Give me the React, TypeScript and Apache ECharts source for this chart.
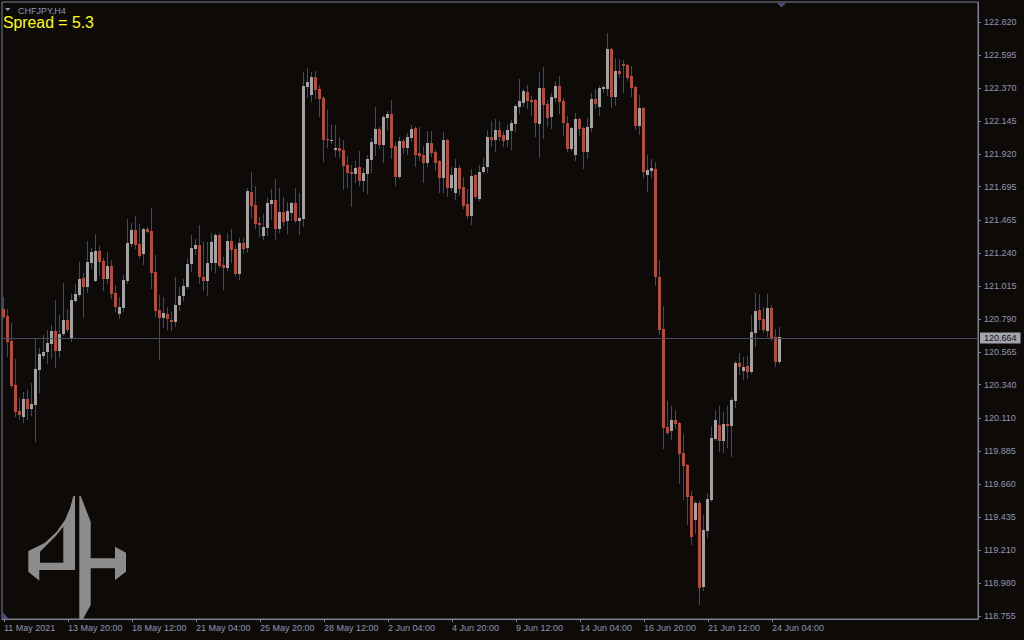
import React, { useEffect, useRef } from "react";
import * as echarts from "echarts";

// ---- data (CHFJPY, H4) ----
const OPEN = [
  120.856, 120.811, 120.639, 120.338, 120.160, 120.122, 120.243, 120.174, 120.201, 120.443,
  120.539, 120.566, 120.619, 120.708, 120.573, 120.687, 120.783, 120.662, 120.913, 120.954,
  121.071, 121.011, 121.176, 121.052, 121.255, 121.187, 121.066, 121.153, 120.966, 120.826,
  120.867, 121.052, 121.303, 121.399, 121.301, 121.235, 121.406, 121.392, 121.112, 120.852,
  120.799, 120.824, 120.785, 120.769, 120.886, 120.947, 121.011, 121.166, 121.269, 121.296,
  121.080, 121.050, 121.171, 121.173, 121.365, 121.160, 121.137, 121.324, 121.269, 121.098,
  121.310, 121.276, 121.659, 121.570, 121.447, 121.358, 121.413, 121.577, 121.604, 121.406,
  121.522, 121.461, 121.515, 121.584, 121.461, 121.474, 122.378, 122.323, 122.446, 122.364,
  122.302, 122.022, 122.006, 121.947, 121.960, 121.947, 121.844, 121.796, 121.782, 121.830,
  121.734, 121.782, 121.878, 121.988, 122.090, 121.981, 122.166, 122.193, 121.974, 121.762,
  122.008, 121.960, 122.029, 122.097, 121.926, 121.912, 121.858, 121.994, 121.933, 121.871,
  121.755, 122.015, 121.687, 121.652, 121.823, 121.693, 121.577, 121.495, 121.776, 121.611,
  121.796, 121.830, 122.036, 122.015, 122.083, 122.049, 122.015, 122.077, 122.124, 122.241,
  122.268, 122.343, 122.289, 122.289, 122.124, 122.371, 122.261, 122.172, 122.302, 122.385,
  122.282, 122.131, 121.953, 121.912, 122.159, 122.097, 121.933, 122.097, 122.296, 122.241,
  122.364, 122.364, 122.638, 122.309, 122.487, 122.535, 122.528, 122.453, 122.378, 122.111,
  122.234, 121.775, 121.803, 121.816, 121.077, 120.722, 120.051, 120.024, 120.099, 120.078,
  119.873, 119.791, 119.579, 119.414, 119.531, 118.956, 119.339, 119.551, 119.969, 120.065,
  119.955, 120.071, 120.058, 120.229, 120.489, 120.434, 120.468, 120.427, 120.694, 120.852,
  120.790, 120.708, 120.865, 120.667, 120.496,
];
const HIGH = [
  120.938, 120.856, 120.760, 120.516, 120.247, 120.288, 120.304, 120.350, 120.662, 120.589,
  120.680, 120.715, 120.749, 120.920, 120.817, 121.034, 120.858, 120.961, 121.027, 121.180,
  121.103, 121.324, 121.274, 121.372, 121.290, 121.210, 121.246, 121.194, 121.023, 120.941,
  121.091, 121.474, 121.445, 121.495, 121.438, 121.415, 121.422, 121.550, 121.228, 120.954,
  120.943, 120.872, 120.838, 121.079, 121.011, 121.064, 121.210, 121.365, 121.337, 121.433,
  121.319, 121.315, 121.379, 121.376, 121.376, 121.217, 121.381, 121.406, 121.296, 121.347,
  121.342, 121.689, 121.798, 121.700, 121.490, 121.511, 121.616, 121.680, 121.748, 121.684,
  121.625, 121.593, 121.593, 121.687, 121.652, 122.483, 122.505, 122.478, 122.487, 122.391,
  122.316, 122.220, 122.118, 122.118, 122.038, 122.015, 121.906, 121.844, 121.871, 121.940,
  121.823, 121.912, 122.031, 122.241, 122.102, 122.186, 122.216, 122.289, 122.004, 122.038,
  122.020, 122.061, 122.118, 122.111, 122.104, 121.974, 122.077, 122.077, 121.947, 121.878,
  122.070, 122.022, 121.830, 121.885, 121.842, 121.762, 121.680, 121.817, 121.782, 121.844,
  121.892, 122.083, 122.145, 122.159, 122.145, 122.077, 122.124, 122.152, 122.261, 122.432,
  122.364, 122.391, 122.316, 122.296, 122.480, 122.515, 122.289, 122.337, 122.419, 122.453,
  122.302, 122.179, 122.104, 122.200, 122.166, 122.104, 122.166, 122.337, 122.364, 122.385,
  122.391, 122.747, 122.645, 122.576, 122.569, 122.562, 122.535, 122.521, 122.385, 122.323,
  122.241, 121.912, 121.885, 121.864, 121.194, 120.879, 120.229, 120.195, 120.167, 120.085,
  120.003, 119.798, 119.613, 119.544, 119.544, 119.449, 119.599, 120.058, 120.167, 120.195,
  120.154, 120.195, 120.249, 120.503, 120.557, 120.530, 120.537, 120.817, 120.968, 120.961,
  120.872, 120.961, 120.886, 120.722, 120.735,
];
const LOW = [
  120.799, 120.539, 120.327, 120.126, 120.106, 120.087, 120.106, 120.133, 119.955, 120.288,
  120.521, 120.491, 120.521, 120.464, 120.532, 120.680, 120.708, 120.639, 120.904, 120.950,
  120.806, 120.977, 121.137, 121.050, 121.091, 120.988, 121.034, 120.931, 120.845, 120.799,
  120.845, 121.034, 121.292, 121.274, 121.214, 121.166, 121.383, 121.004, 120.813, 120.516,
  120.738, 120.722, 120.715, 120.742, 120.852, 120.920, 121.000, 121.121, 121.237, 121.036,
  120.988, 120.954, 121.125, 121.114, 121.144, 120.995, 121.125, 121.182, 121.087, 121.064,
  121.239, 121.251, 121.490, 121.411, 121.360, 121.337, 121.365, 121.474, 121.337, 121.388,
  121.433, 121.381, 121.468, 121.452, 121.372, 121.426, 122.309, 122.284, 122.305, 122.179,
  121.871, 121.969, 121.997, 121.906, 121.896, 121.680, 121.696, 121.563, 121.728, 121.707,
  121.668, 121.652, 121.798, 121.912, 121.958, 121.864, 122.088, 121.890, 121.707, 121.755,
  121.924, 121.919, 122.010, 121.837, 121.878, 121.728, 121.837, 121.906, 121.810, 121.661,
  121.661, 121.632, 121.673, 121.614, 121.645, 121.547, 121.481, 121.440, 121.618, 121.604,
  121.787, 121.796, 121.974, 121.940, 122.015, 121.974, 121.974, 121.953, 122.077, 122.200,
  122.248, 122.234, 122.186, 122.042, 121.899, 122.029, 122.111, 122.097, 122.282, 122.200,
  122.049, 121.940, 121.947, 121.878, 122.049, 121.823, 121.892, 122.077, 122.234, 122.186,
  122.343, 122.323, 122.241, 122.254, 122.446, 122.343, 122.426, 122.316, 122.090, 122.056,
  121.762, 121.666, 121.762, 121.023, 120.687, 119.909, 120.003, 119.969, 120.044, 119.668,
  119.558, 119.387, 119.250, 119.325, 118.840, 118.935, 119.298, 119.544, 119.962, 119.887,
  119.880, 119.914, 119.852, 120.188, 120.414, 120.379, 120.386, 120.420, 120.605, 120.722,
  120.701, 120.674, 120.646, 120.468, 120.491,
];
const CLOSE = [
  120.806, 120.635, 120.334, 120.156, 120.133, 120.243, 120.174, 120.206, 120.448, 120.551,
  120.564, 120.626, 120.708, 120.573, 120.687, 120.783, 120.715, 120.920, 120.961, 121.064,
  121.011, 121.180, 121.249, 121.255, 121.182, 121.066, 121.153, 120.963, 120.874, 120.870,
  121.057, 121.310, 121.399, 121.294, 121.223, 121.406, 121.388, 121.107, 120.845, 120.799,
  120.831, 120.790, 120.769, 120.886, 120.947, 121.018, 121.166, 121.276, 121.296, 121.080,
  121.052, 121.173, 121.317, 121.365, 121.153, 121.139, 121.324, 121.262, 121.098, 121.310,
  121.269, 121.666, 121.563, 121.440, 121.433, 121.420, 121.584, 121.604, 121.406, 121.522,
  121.454, 121.529, 121.584, 121.461, 121.481, 122.385, 122.412, 122.446, 122.357, 122.296,
  122.015, 122.015, 122.013, 121.960, 121.940, 121.837, 121.789, 121.782, 121.823, 121.734,
  121.789, 121.885, 122.001, 122.090, 121.981, 122.172, 122.193, 121.960, 121.762, 122.008,
  121.960, 122.036, 122.090, 121.912, 121.906, 121.858, 121.994, 121.926, 121.858, 121.755,
  122.015, 121.687, 121.776, 121.823, 121.680, 121.563, 121.495, 121.769, 121.625, 121.796,
  121.830, 122.036, 122.015, 122.083, 122.036, 122.008, 122.083, 122.131, 122.248, 122.282,
  122.350, 122.282, 122.275, 122.131, 122.371, 122.254, 122.166, 122.309, 122.385, 122.275,
  122.131, 121.953, 122.097, 122.159, 122.090, 121.933, 122.104, 122.296, 122.261, 122.371,
  122.378, 122.638, 122.309, 122.487, 122.467, 122.521, 122.439, 122.371, 122.111, 122.234,
  121.796, 121.810, 121.823, 121.077, 120.715, 120.046, 120.010, 120.099, 120.071, 119.866,
  119.784, 119.572, 119.298, 119.531, 118.949, 119.346, 119.558, 119.976, 120.099, 119.955,
  120.071, 120.058, 120.236, 120.489, 120.462, 120.462, 120.427, 120.701, 120.845, 120.783,
  120.715, 120.865, 120.660, 120.496, 120.664,
];

const Y_TICKS = [
  118.755, 118.98, 119.21, 119.435, 119.66, 119.885, 120.11, 120.34, 120.565, 120.79,
  121.015, 121.24, 121.465, 121.695, 121.92, 122.145, 122.37, 122.595, 122.82,
];
const Y_MIN = 118.737;
const Y_MAX = 122.959;
const LAST_PRICE = 120.664;
const SYMBOL_TEXT = "CHFJPY,H4";
const SPREAD_TEXT = "Spread = 5.3";
const FIRST_BAR_UTC = Date.UTC(2021, 4, 11, 4, 0);
const BAR_HOURS = 4;
const TOTAL_SLOTS = 244;
const LABEL_EVERY = 16;
const MONTHS = ["Jan", "Feb", "Mar", "Apr", "May", "Jun", "Jul", "Aug", "Sep", "Oct", "Nov", "Dec"];

// ---- styles ----
const BG = "#0d0a08";
const FRAME = "#7d8296";
const TEXT = "#8f98b3";
const BULL = "#a3a3a3";
const BEAR = "#c84330";
const WICK = "#454b5c";
const BID_LINE = "#4a4a62";
const MARKER = "#4b4b7d";
const LOGO = "#8c8c8c";
const FONT = '"Liberation Sans", Arial, sans-serif';

function buildCategories(): string[] {
  const out: string[] = [];
  let t = FIRST_BAR_UTC;
  while (out.length < OPEN.length) {
    const d = new Date(t);
    const wd = d.getUTCDay();
    if (wd !== 0 && wd !== 6) {
      const day = d.getUTCDate();
      const mon = MONTHS[d.getUTCMonth()];
      const hh = String(d.getUTCHours()).padStart(2, "0");
      out.push(out.length === 0 ? `${day} ${mon} ${d.getUTCFullYear()}` : `${day} ${mon} ${hh}:00`);
    }
    t += BAR_HOURS * 3600 * 1000;
  }
  while (out.length < TOTAL_SLOTS) out.push("");
  return out;
}

export default function App() {
  const ref = useRef<HTMLDivElement>(null);

  useEffect(() => {
    document.body.style.margin = "0";
    document.body.style.background = BG;
    if (!ref.current) return;
    const chart = echarts.init(ref.current, undefined, { renderer: "svg" });

    const categories = buildCategories();
    const candles = OPEN.map((o, i) => [i, o, HIGH[i], LOW[i], CLOSE[i]]);
    const showIdx = (idx: number, val: string) => val !== "" && idx % LABEL_EVERY === 0;

    chart.setOption({
      animation: false,
      backgroundColor: BG,
      grid: {
        left: 2,
        top: 2,
        right: 46,
        bottom: 21,
        show: true,
        borderColor: FRAME,
        borderWidth: 1,
        backgroundColor: "transparent",
      },
      xAxis: {
        type: "category",
        data: categories,
        boundaryGap: true,
        axisLine: { show: true, lineStyle: { color: FRAME, width: 1 } },
        axisTick: { show: true, alignWithLabel: true, interval: showIdx, length: 3, lineStyle: { color: FRAME } },
        axisLabel: {
          interval: showIdx,
          align: "left",
          margin: 4,
          color: TEXT,
          fontSize: 9,
          fontFamily: FONT,
        },
        splitLine: { show: false },
      },
      yAxis: {
        type: "value",
        position: "right",
        min: Y_MIN,
        max: Y_MAX,
        scale: true,
        axisLine: { show: true, lineStyle: { color: FRAME, width: 1 } },
        axisTick: { show: true, customValues: Y_TICKS, length: 3, lineStyle: { color: FRAME } },
        axisLabel: {
          customValues: Y_TICKS,
          formatter: (v: number) => v.toFixed(3),
          margin: 6,
          color: TEXT,
          fontSize: 9,
          fontFamily: FONT,
        },
        splitLine: { show: false },
      },
      series: [
        {
          type: "line",
          data: CLOSE,
          showSymbol: false,
          silent: true,
          lineStyle: { opacity: 0, width: 0 },
          z: 1,
          markLine: {
            silent: true,
            symbol: "none",
            animation: false,
            lineStyle: { color: BID_LINE, type: "solid", width: 1 },
            label: {
              show: true,
              position: "end",
              distance: 2,
              formatter: LAST_PRICE.toFixed(3),
              backgroundColor: "#a4a4ac",
              color: "#101018",
              padding: [1, 4, 1, 4],
              fontSize: 9,
              fontFamily: FONT,
            },
            data: [{ yAxis: LAST_PRICE }],
          },
        },
        {
          type: "custom",
          data: candles,
          encode: { x: 0, y: [1, 2, 3, 4] },
          z: 3,
          renderItem: (_params: any, api: any) => {
            const i = api.value(0);
            const o = api.value(1);
            const h = api.value(2);
            const l = api.value(3);
            const c = api.value(4);
            const pO = api.coord([i, o]);
            const pC = api.coord([i, c]);
            const pH = api.coord([i, h]);
            const pL = api.coord([i, l]);
            const cx = Math.floor(pO[0] - 0.5);
            const top = Math.round(Math.min(pO[1], pC[1]));
            const bot = Math.round(Math.max(pO[1], pC[1]));
            return {
              type: "group",
              children: [
                {
                  type: "line",
                  shape: { x1: cx + 0.5, y1: Math.round(pH[1]), x2: cx + 0.5, y2: Math.round(pL[1]) + 1 },
                  style: { stroke: WICK, lineWidth: 1 },
                },
                {
                  type: "rect",
                  shape: { x: cx - 1, y: top, width: 3, height: Math.max(1, bot - top) },
                  style: { fill: c >= o ? BULL : BEAR },
                },
              ],
            };
          },
        },
      ],
      graphic: [
        { type: "polygon", shape: { points: [[5, 8], [10.5, 8], [7.75, 11]] }, style: { fill: TEXT } },
        {
          type: "text",
          x: 18,
          y: 10.5,
          style: { text: SYMBOL_TEXT, fill: TEXT, fontSize: 9, fontFamily: FONT, verticalAlign: "middle" },
        },
        {
          type: "text",
          x: 3,
          y: 22,
          style: { text: SPREAD_TEXT, fill: "#ffff00", fontSize: 15.8, fontFamily: FONT, verticalAlign: "middle" },
        },
        { type: "polygon", shape: { points: [[777, 3], [786, 3], [781.5, 7.5]] }, style: { fill: MARKER } },
        { type: "polygon", shape: { points: [[2.5, 612], [2.5, 619], [9, 619]] }, style: { fill: MARKER } },
        {
          type: "group",
          silent: true,
          children: [
            {
              type: "polygon",
              shape: {
                points: [
                  [79.3, 496], [80.7, 496], [90.7, 521.7], [90.7, 558.3], [115, 558.3], [115, 546.7],
                  [126, 552.7], [126, 571.7], [115, 580], [115, 568.3], [90.7, 568.3], [90.7, 605],
                  [83, 619], [79.3, 619],
                ],
              },
              style: { fill: LOGO },
            },
            {
              type: "polygon",
              shape: {
                points: [
                  [73.3, 496], [75, 496], [75, 570], [39.3, 570], [39.3, 580.7], [28.3, 571.7],
                  [28.3, 551], [45, 542.7], [56.7, 531.7], [65, 520], [70, 508.3],
                ],
              },
              style: { fill: LOGO },
            },
            {
              type: "polygon",
              shape: { points: [[40, 551.7], [40, 562.7], [63.3, 562.7], [63.3, 526.7], [55, 536.7]] },
              style: { fill: BG },
            },
          ],
        },
      ],
    });

    return () => chart.dispose();
  }, []);

  return <div ref={ref} style={{ width: 1024, height: 640, background: BG }} />;
}
